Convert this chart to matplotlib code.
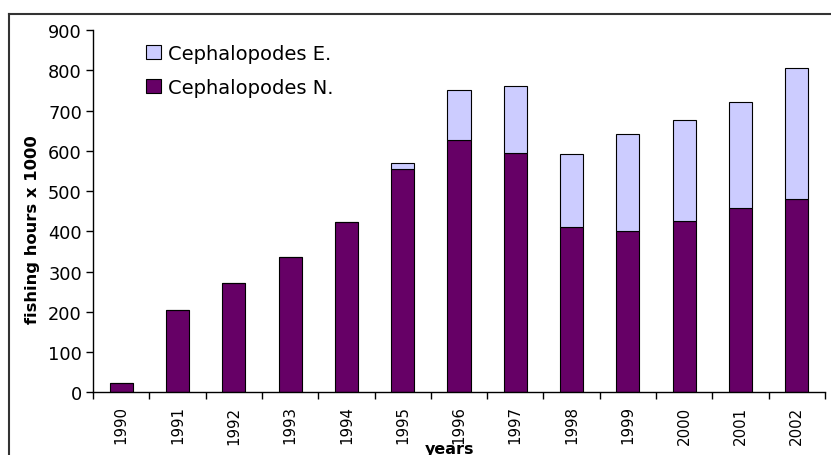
import numpy as np
import matplotlib
matplotlib.use('Agg')
import matplotlib.pyplot as plt
from matplotlib.lines import Line2D
from matplotlib.ticker import FixedLocator

# data (fishing hours x 1000)
years = ['1990', '1991', '1992', '1993', '1994', '1995', '1996',
         '1997', '1998', '1999', '2000', '2001', '2002']
ceph_n = [22, 205, 271, 335, 422, 555, 626, 595, 410, 401, 425, 458, 480]
ceph_e = [0, 0, 0, 0, 0, 15, 126, 167, 183, 241, 252, 262, 325]

fig = plt.figure(figsize=(8.31, 4.56), dpi=100)
ax = fig.add_axes([93 / 831, 1 - 393.3 / 456, (825 - 93) / 831, (393.3 - 31) / 456])

x = np.arange(len(years))
ax.bar(x, ceph_n, width=0.41, color='#660066', edgecolor='black', linewidth=0.8,
       label='Cephalopodes N.')
ax.bar(x, ceph_e, width=0.41, bottom=ceph_n, color='#CCCCFF', edgecolor='black',
       linewidth=0.8, label='Cephalopodes E.')

ax.set_xlim(-0.5, len(years) - 0.5)
ax.set_ylim(0, 900)
ax.set_yticks(range(0, 901, 100))
ax.tick_params(axis='y', labelsize=12.8, length=5, width=1, direction='out', pad=3)

# labels at bar centres, tick marks at category boundaries
ax.set_xticks(x)
ax.set_xticklabels(years, rotation=90, fontsize=10.8)
ax.tick_params(axis='x', which='major', length=0, pad=9.5)
ax.xaxis.set_minor_locator(FixedLocator(np.arange(-0.5, len(years), 1)))
ax.tick_params(axis='x', which='minor', length=5, width=1, direction='out')

for s in ['top', 'right']:
    ax.spines[s].set_visible(False)
for s in ['left', 'bottom']:
    ax.spines[s].set_linewidth(1)

fig.text(33 / 831, 1 - 230 / 456, 'fishing hours x 1000', rotation=90, fontsize=11.8,
         fontweight='bold', ha='center', va='center')
fig.text(450 / 831, 1 - 450 / 456, 'years', fontsize=11.5, fontweight='bold',
         ha='center', va='center')

h, l = ax.get_legend_handles_labels()
ax.legend(h[::-1], l[::-1], loc='upper left', bbox_to_anchor=(146 / 831, 1 - 45 / 456),
          bbox_transform=fig.transFigure, frameon=False, fontsize=14,
          handlelength=0.75, handleheight=0.75, handletextpad=0.4, labelspacing=0.75,
          borderpad=0, borderaxespad=0)

# outer chart frame (top and left edges visible in the crop)
fig.add_artist(Line2D([9 / 831, 1], [1 - 15 / 456, 1 - 15 / 456], color='#333333', lw=1.5))
fig.add_artist(Line2D([9 / 831, 9 / 831], [0, 1 - 15 / 456], color='#333333', lw=1.5))

fig.savefig('out.png', dpi=100)
